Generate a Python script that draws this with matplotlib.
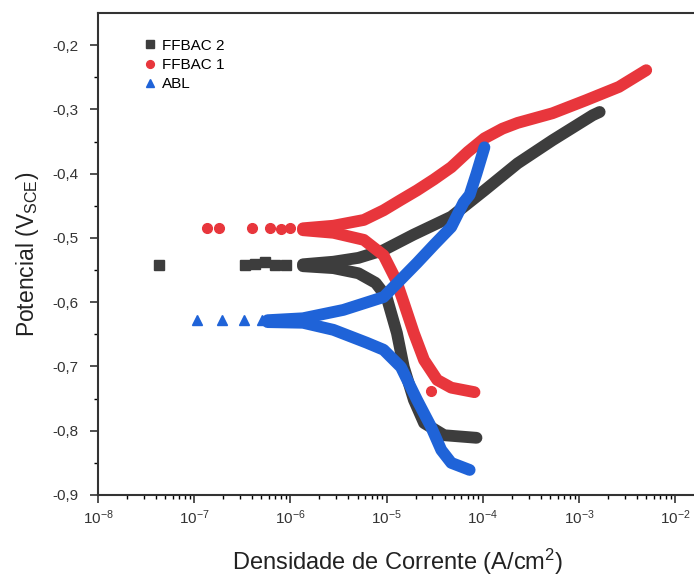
import numpy as np
import matplotlib
matplotlib.use("Agg")
from matplotlib import pyplot as plt
from matplotlib.ticker import FixedLocator, FuncFormatter, LogLocator, NullFormatter, LogFormatterSciNotation

plt.rcParams['font.family'] = ['Liberation Sans', 'DejaVu Sans']
plt.rcParams['mathtext.fontset'] = 'custom'
plt.rcParams['mathtext.rm'] = 'Liberation Sans'
plt.rcParams['mathtext.it'] = 'Liberation Sans:italic'

# FFBAC 2 (gray squares)
ffbac2_pts_i = [4.3e-8, 3.4e-7, 4.3e-7, 5.5e-7, 6.9e-7, 9.0e-7]
ffbac2_pts_e = [-0.542, -0.542, -0.541, -0.538, -0.542, -0.542]
ffbac2_an_i = [1.35e-6, 2.8e-6, 5.1e-6, 9.3e-6, 1.9e-5, 4.7e-5, 1.04e-4, 2.3e-4, 5.3e-4, 1.39e-3, 1.64e-3]
ffbac2_an_e = [-0.541, -0.537, -0.531, -0.519, -0.495, -0.467, -0.426, -0.384, -0.348, -0.309, -0.304]
ffbac2_ca_i = [1.35e-6, 2.8e-6, 5.1e-6, 7.7e-6, 1.0e-5, 1.28e-5, 1.51e-5, 1.92e-5, 2.45e-5, 3.97e-5, 8.6e-5]
ffbac2_ca_e = [-0.544, -0.547, -0.555, -0.570, -0.592, -0.648, -0.701, -0.752, -0.788, -0.807, -0.811]

# FFBAC 1 (red circles)
ffbac1_pts_i = [1.36e-7, 1.8e-7, 4.0e-7, 6.2e-7, 7.9e-7, 9.9e-7, 2.9e-5]
ffbac1_pts_e = [-0.485, -0.485, -0.485, -0.485, -0.486, -0.485, -0.738]
ffbac1_an_i = [1.35e-6, 2.8e-6, 5.8e-6, 9.3e-6, 1.4e-5, 2.07e-5, 3.1e-5, 4.7e-5, 7.0e-5, 1.04e-4,
               1.6e-4, 2.3e-4, 5.3e-4, 1.17e-3, 2.6e-3, 5.0e-3]
ffbac1_an_e = [-0.485, -0.481, -0.472, -0.457, -0.441, -0.426, -0.409, -0.390, -0.366, -0.345,
               -0.330, -0.321, -0.306, -0.286, -0.265, -0.239]
ffbac1_ca_i = [1.35e-6, 2.8e-6, 5.8e-6, 9.3e-6, 1.25e-5, 1.51e-5, 1.92e-5, 2.45e-5, 3.36e-5, 4.7e-5, 8.2e-5]
ffbac1_ca_e = [-0.488, -0.492, -0.503, -0.527, -0.565, -0.601, -0.648, -0.690, -0.721, -0.733, -0.740]

# ABL (blue triangles)
abl_pts_i = [1.07e-7, 1.95e-7, 3.3e-7, 5.1e-7]
abl_pts_e = [-0.628, -0.628, -0.628, -0.628]
abl_an_i = [5.8e-7, 1.35e-6, 3.55e-6, 9.3e-6, 2.07e-5, 3.1e-5, 4.7e-5, 6.3e-5, 7.3e-5, 8.6e-5, 1.04e-4]
abl_an_e = [-0.628, -0.625, -0.612, -0.592, -0.539, -0.511, -0.483, -0.445, -0.433, -0.400, -0.359]
abl_ca_i = [5.8e-7, 1.35e-6, 2.8e-6, 6.2e-6, 9.3e-6, 1.41e-5, 2.07e-5, 2.9e-5, 3.7e-5, 4.7e-5, 7.3e-5]
abl_ca_e = [-0.631, -0.632, -0.643, -0.663, -0.674, -0.701, -0.752, -0.794, -0.830, -0.850, -0.861]

x_ticks = [1e-8, 1e-7, 1e-6, 1e-5, 1e-4, 1e-3, 1e-2]

series = [
    ("FFBAC 2", "s", "#3d3d3d", ffbac2_pts_i, ffbac2_pts_e, [(ffbac2_an_i, ffbac2_an_e), (ffbac2_ca_i, ffbac2_ca_e)]),
    ("FFBAC 1", "o", "#e8363c", ffbac1_pts_i, ffbac1_pts_e, [(ffbac1_an_i, ffbac1_an_e), (ffbac1_ca_i, ffbac1_ca_e)]),
    ("ABL", "^", "#1f63d8", abl_pts_i, abl_pts_e, [(abl_an_i, abl_an_e), (abl_ca_i, abl_ca_e)]),
]

fig = plt.figure(figsize=(6.94, 5.8), dpi=100)
ax = fig.add_axes([98 / 694, 85 / 580, 599 / 694, 482 / 580])

for label, mk, col, pi, pe, branches in series:
    ax.plot(pi, pe, linestyle="none", marker=mk, ms=7, color=col, label=label, zorder=3)
    for bi, be in branches:
        ax.plot(bi, be, color=col, lw=8.5, solid_capstyle="round", solid_joinstyle="round", zorder=2)

ax.set_xscale("log")
ax.set_xlim(1e-8, 10 ** (-8 + 599 / 96.2))
ax.set_ylim(-0.9, -0.15)

ax.xaxis.set_major_locator(FixedLocator(x_ticks))
ax.xaxis.set_major_formatter(LogFormatterSciNotation())
ax.xaxis.set_minor_locator(LogLocator(base=10, subs=np.arange(2, 10), numticks=20))
ax.xaxis.set_minor_formatter(NullFormatter())
ax.yaxis.set_major_locator(FixedLocator(np.arange(-0.9, -0.15, 0.1)))
ax.yaxis.set_minor_locator(FixedLocator(np.arange(-0.85, -0.15, 0.1)))
ax.yaxis.set_major_formatter(FuncFormatter(lambda v, p: f"{v:.1f}".replace(".", ",")))

ax.tick_params(which="major", direction="out", length=6, width=1.2, labelsize=11, colors="#333333")
ax.tick_params(axis="y", which="major", pad=8)
ax.tick_params(axis="x", which="major", pad=4)
ax.tick_params(which="minor", direction="out", length=3, width=1.0)
for s in ["left", "bottom", "top"]:
    ax.spines[s].set_linewidth(1.5)
    ax.spines[s].set_color("#333333")
ax.spines["right"].set_visible(False)

ax.set_xlabel("Densidade de Corrente (A/cm$^2$)", fontsize=17, color="#222222", labelpad=14)
ax.set_ylabel("Potencial (V$_{\\mathrm{SCE}}$)", fontsize=16.5, color="#222222", labelpad=8)

ax.legend(loc="upper left", bbox_to_anchor=(0.055, 0.975), frameon=False, fontsize=11,
          handlelength=0.7, handletextpad=0.45, labelspacing=0.35, markerscale=0.8)

fig.savefig("out.png", dpi=100)
